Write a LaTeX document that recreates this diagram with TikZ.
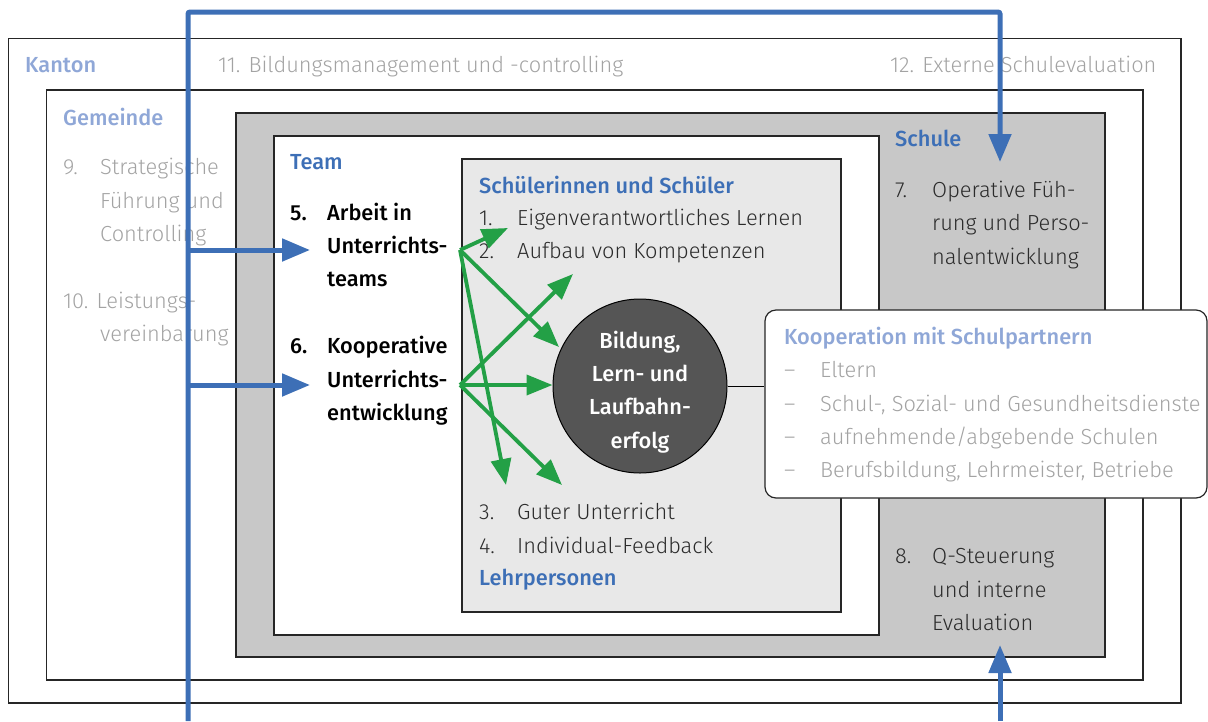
\documentclass[tikz,border=0pt]{standalone}
\usepackage{fontspec}
\setmainfont{Fira Sans Light}[BoldFont=Fira Sans Medium]
\usetikzlibrary{arrows.meta}
\definecolor{blueA}{HTML}{3D6FB6}
\definecolor{lblue}{HTML}{8FA7D7}
\definecolor{gtext}{HTML}{A3A3A3}
\definecolor{dtext}{HTML}{2B2B2B}
\definecolor{schulefill}{HTML}{C8C8C8}
\definecolor{sfill}{HTML}{E8E8E8}
\definecolor{circfill}{HTML}{555555}
\definecolor{greenA}{HTML}{23A046}
\begin{document}
\begin{tikzpicture}[x=1pt,y=-1pt,
  frame/.style={draw=black!85, line width=1.2pt},
  txt/.style={anchor=base west, inner sep=0pt, font=\fontsize{21.8}{24}\selectfont},
  gray/.style={txt, text=gtext},
  dark/.style={txt, text=dtext},
  head/.style={txt, text=blueA, font=\fontsize{21.8}{24}\selectfont\bfseries},
  lhead/.style={txt, text=lblue, font=\fontsize{21.8}{24}\selectfont\bfseries},
  bold/.style={txt, text=black, font=\fontsize{21.8}{24}\selectfont\bfseries},
  bluearrow/.style={draw=blueA, line width=5pt, -{Triangle[length=28pt,width=22pt]}},
  greenarrow/.style={draw=greenA, line width=3.8pt, -{Triangle[length=26pt,width=20pt]}}]
\useasboundingbox (0,0) rectangle (1208,721);

% frames
\draw[frame] (8.5,38.5) rectangle (1181,703);
\draw[frame] (46.5,90) rectangle (1143,680);
\draw[frame, fill=schulefill] (236,113) rectangle (1105,657);
\draw[frame, fill=white] (274,136) rectangle (879,635);
\draw[frame, fill=sfill] (462,159) rectangle (841,612);

% Kanton
\node[lhead] (kanton) at (25,72) {Kanton};
\node[gray] (k11) at (218,72) {11. Bildungsmanagement und -controlling};
\node[gray] (k12) at (890,72) {12. Externe Schulevaluation};

% Gemeinde
\node[lhead] (gemeinde) at (63,125) {Gemeinde};
\node[gray] (g9n) at (63,174) {9.};
\node[gray] (g9a) at (100,174) {Strategische};
\node[gray] (g9b) at (100,208) {Führung und};
\node[gray] (g9c) at (100,241) {Controlling};
\node[gray] (g10a) at (63,308) {10. Leistungs-};
\node[gray] (g10b) at (100,341) {vereinbarung};

% Team
\node[head] (team) at (290,169) {Team};
\node[bold] (t5n) at (290,220) {5.};
\node[bold] (t5a) at (327,220) {Arbeit in};
\node[bold] (t5b) at (327,253) {Unterrichts-};
\node[bold] (t5c) at (327,286) {teams};
\node[bold] (t6n) at (290,353) {6.};
\node[bold] (t6a) at (327,353) {Kooperative};
\node[bold] (t6b) at (327,387) {Unterrichts-};
\node[bold] (t6c) at (327,420) {entwicklung};

% Schueler
\node[head] (schueler) at (479,193) {Schülerinnen und Schüler};
\node[dark] (s1n) at (479,225) {1.};
\node[dark] (s1) at (517,225) {Eigenverantwortliches Lernen};
\node[dark] (s2n) at (479,258) {2.};
\node[dark] (s2) at (517,258) {Aufbau von Kompetenzen};
\node[dark] (s3n) at (479,519) {3.};
\node[dark] (s3) at (517,519) {Guter Unterricht};
\node[dark] (s4n) at (479,553) {4.};
\node[dark] (s4) at (517,553) {Individual-Feedback};
\node[head] (lehr) at (479,585) {Lehrpersonen};

% Schule
\node[head] (schule) at (895,146) {Schule};
\node[dark] (s7n) at (895,197) {7.};
\node[dark] (s7a) at (932,197) {Operative Füh-};
\node[dark] (s7b) at (932,230) {rung und Perso-};
\node[dark] (s7c) at (932,264) {nalentwicklung};
\node[dark] (s8n) at (895,563) {8.};
\node[dark] (s8a) at (932,563) {Q-Steuerung};
\node[dark] (s8b) at (932,597) {und interne};
\node[dark] (s8c) at (932,630) {Evaluation};

% circle
\node[circle, draw=black, line width=1pt, fill=circfill, minimum size=174pt, inner sep=0pt] (erfolg) at (640,386) {};
\node[text=white, align=center, inner sep=0pt, font=\fontsize{21.8}{33.3}\selectfont\bfseries] (erfolgtxt) at (640,392)
      {Bildung,\\Lern- und\\Laufbahn-\\erfolg};

% Kooperation
\node[draw=black!85, line width=1.2pt, fill=white, rounded corners=11pt, minimum width=442pt,
      minimum height=188pt, inner sep=0pt] (koop) at (986,404) {};
\draw[line width=1pt] (erfolg.east) -- (erfolg.east -| koop.west);
\node[lhead] (kooptitle) at (784,344) {Kooperation mit Schulpartnern};
\node[gray] (d1) at (784,377) {–};
\node[gray] (k1) at (820,377) {Eltern};
\node[gray] (d2) at (784,411) {–};
\node[gray] (k2) at (820,411) {Schul-, Sozial- und Gesundheitsdienste};
\node[gray] (d3) at (784,444) {–};
\node[gray] (k3) at (820,444) {aufnehmende/abgebende Schulen};
\node[gray] (d4) at (784,477) {–};
\node[gray] (k4) at (820,477) {Berufsbildung, Lehrmeister, Betriebe};

% green arrows
\coordinate (ga) at (460,250);
\coordinate (gb) at (460,385);
\coordinate (ga1) at (508,228);
\coordinate (ga2) at (559,347);
\coordinate (ga3) at (506,485);
\coordinate (gb1) at (573,274);
\coordinate (gb3) at (562,485);
\draw[greenarrow] (ga) -- (ga1);
\draw[greenarrow] (ga) -- (ga2);
\draw[greenarrow] (ga) -- (ga3);
\draw[greenarrow] (gb) -- (gb1);
\draw[greenarrow] (gb) -- (gb -| erfolg.west);
\draw[greenarrow] (gb) -- (gb3);

% blue arrows
\coordinate (bstart) at (188,721);
\coordinate (btl) at (188,12);
\coordinate (btr) at (1000,12);
\coordinate (btip) at (1000,162);
\coordinate (bbot) at (1000,721);
\coordinate (bbtip) at (1000,645);
\coordinate (b5) at (188,250);
\coordinate (b5tip) at (310,250);
\coordinate (b6) at (188,385);
\coordinate (b6tip) at (310,385);
\draw[bluearrow, rounded corners=2pt] (bstart) -- (btl) -- (btr) -- (btip);
\draw[bluearrow] (b5) -- (b5tip);
\draw[bluearrow] (b6) -- (b6tip);
\draw[bluearrow] (bbot) -- (bbtip);
\end{tikzpicture}
\end{document}
